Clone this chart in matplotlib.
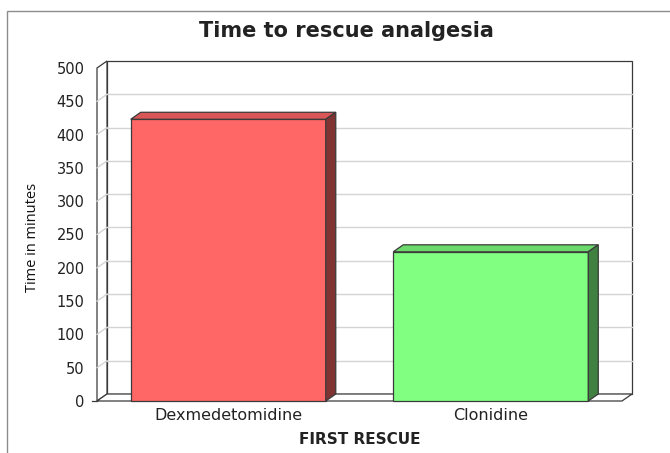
import matplotlib
matplotlib.use("Agg")
import matplotlib.pyplot as plt
from matplotlib.patches import Polygon, Rectangle

# data
categories = ["Dexmedetomidine", "Clonidine"]
values = [423, 224]
front_colors = ["#ff6666", "#80ff80"]
top_colors = ["#d95757", "#6cd96c"]
side_colors = ["#7f3333", "#408040"]
y_ticks = list(range(0, 501, 50))

W, H, DPI = 670, 453, 100
EDGE = "#3a3a3a"
GRID = "#d4d4d4"
FONT = ["DejaVu Sans"]

fig = plt.figure(figsize=(W / DPI, H / DPI), dpi=DPI)
fig.patch.set_facecolor("white")

# outer frame
fig.add_artist(Rectangle((7 / W, -0.1), 1.2, 1 - 11 / H + 0.1,
                         transform=fig.transFigure, fill=False,
                         edgecolor="#8c8c8c", lw=1.0))

left, right, bottom, top = 97 / W, 622 / W, 1 - 401 / H, 1 - 68 / H
ax = fig.add_axes([left, bottom, right - left, top - bottom])
ax.set_facecolor("none")
x0, x1, y0, y1 = 0, 2, 0, 500
ax.set_xlim(x0, x1)
ax.set_ylim(y0, y1)
for s in ax.spines.values():
    s.set_visible(False)

# depth offsets (pixels -> data units)
depth_x, depth_y = 10, 7
DX = depth_x / ((right - left) * W) * (x1 - x0)
DY = depth_y / ((top - bottom) * H) * (y1 - y0)

def poly(pts, fc, z, ec=EDGE, lw=0.9):
    ax.add_patch(Polygon(pts, closed=True, facecolor=fc, edgecolor=ec,
                         lw=lw, zorder=z, clip_on=False, joinstyle="miter"))

# walls and floor
poly([(x0 + DX, y0 + DY), (x1 + DX, y0 + DY), (x1 + DX, y1 + DY),
      (x0 + DX, y1 + DY)], "white", 1)
poly([(x0, y0), (x0, y1), (x0 + DX, y1 + DY), (x0 + DX, y0 + DY)], "white", 1)
for v in y_ticks[1:-1]:
    ax.plot([x0 + DX, x1 + DX], [v + DY, v + DY], color=GRID, lw=1,
            zorder=1.5, clip_on=False)
    ax.plot([x0, x0 + DX], [v, v + DY], color=GRID, lw=1, zorder=1.5,
            clip_on=False)
poly([(x0, y0), (x1, y0), (x1 + DX, y0 + DY), (x0 + DX, y0 + DY)], "white", 2)
ax.plot([x0 - 0.02, x0], [y0, y0], color=EDGE, lw=0.9, clip_on=False)

# bars
bw = 0.743
for i, (name, v) in enumerate(zip(categories, values)):
    xc = i + 0.5
    xl, xr = xc - bw / 2, xc + bw / 2
    poly([(xl, 0), (xr, 0), (xr, v), (xl, v)], front_colors[i], 3)
    poly([(xl, v), (xr, v), (xr + DX, v + DY), (xl + DX, v + DY)],
         top_colors[i], 3)
    poly([(xr, 0), (xr + DX, DY), (xr + DX, v + DY), (xr, v)],
         side_colors[i], 3)

ax.set_yticks(y_ticks)
ax.set_yticklabels([str(t) for t in y_ticks], fontsize=10.5, family=FONT,
                   color="#222222")
ax.set_xticks([i + 0.5 for i in range(len(categories))])
ax.set_xticklabels(categories, fontsize=11.5, family=FONT, color="#222222")
ax.tick_params(axis="y", length=0, pad=9)
ax.tick_params(axis="x", length=0, pad=5)

fig.text(346 / W, 1 - 31 / H, "Time to rescue analgesia", ha="center",
         va="center", fontsize=15, fontweight="bold", family=FONT,
         color="#222222")
fig.text(33 / W, 1 - 237 / H, "Time in minutes", ha="center", va="center",
         rotation=90, fontsize=10.5, family=["Open Sans", "DejaVu Sans"],
         color="#111111")
fig.text(360 / W, 1 - 440 / H, "FIRST RESCUE", ha="center", va="center",
         fontsize=11, fontweight="bold", family=FONT, color="#222222")

fig.savefig("out.png", dpi=DPI, facecolor="white")
